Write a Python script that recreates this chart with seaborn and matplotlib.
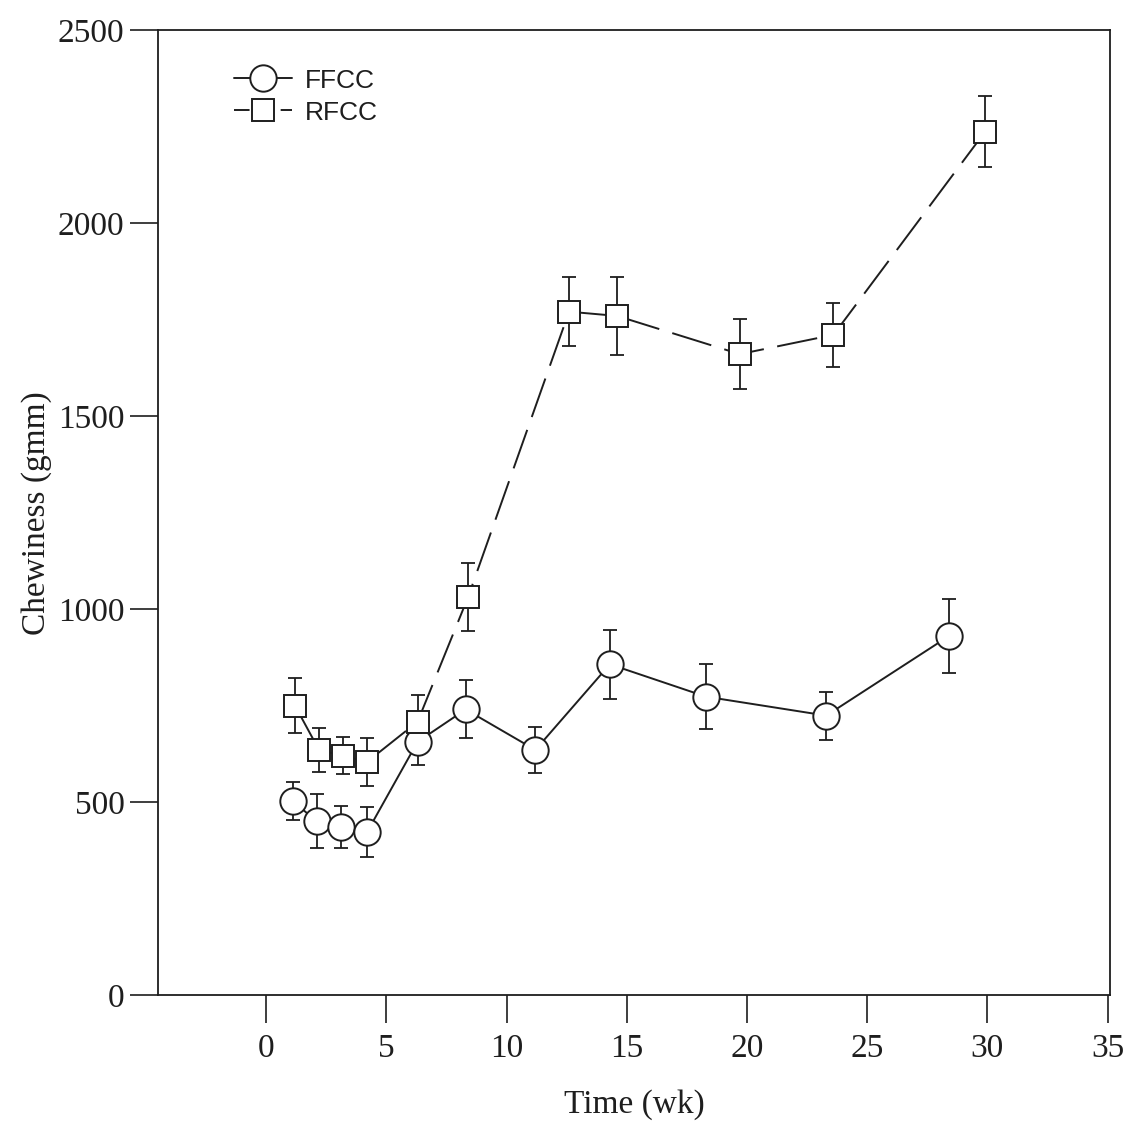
import numpy as np
import pandas as pd
import matplotlib
matplotlib.use("Agg")
import matplotlib.pyplot as plt
import seaborn as sns
from matplotlib.lines import Line2D

# ---- data ----
ffcc_x = [1.1, 2.1, 3.1, 4.2, 6.3, 8.3, 11.2, 14.3, 18.3, 23.3, 28.4]
ffcc_y = [503, 450, 435, 422, 656, 740, 635, 857, 773, 724, 930]
ffcc_err = [50, 70, 55, 65, 60, 75, 60, 90, 85, 62, 95]

rfcc_x = [1.2, 2.2, 3.2, 4.2, 6.3, 8.4, 12.6, 14.6, 19.7, 23.6, 29.9]
rfcc_y = [750, 635, 620, 604, 708, 1031, 1771, 1760, 1661, 1711, 2237]
rfcc_err = [72, 58, 48, 62, 70, 88, 90, 100, 90, 83, 92]

series_names = ["FFCC", "RFCC"]
x_ticks = [0, 5, 10, 15, 20, 25, 30, 35]
y_ticks = [0, 500, 1000, 1500, 2000, 2500]

df = pd.DataFrame({
    "time": ffcc_x + rfcc_x,
    "chew": ffcc_y + rfcc_y,
    "err": ffcc_err + rfcc_err,
    "series": ["FFCC"] * len(ffcc_x) + ["RFCC"] * len(rfcc_x),
})

sns.set_style("ticks")
plt.rcParams["font.family"] = ["Liberation Serif", "DejaVu Serif"]

ink = "#1e1e1e"
fig = plt.figure(figsize=(11.28, 11.28), dpi=100)
ax = fig.add_axes([0.140, 0.118, 0.844, 0.855])

# error bars (under markers)
for name in series_names:
    d = df[df.series == name]
    ax.errorbar(d.time, d.chew, yerr=d.err, fmt="none", ecolor=ink,
                elinewidth=1.3, capsize=5, capthick=1.3, zorder=1)

markers = {"FFCC": "o", "RFCC": "s"}
dashes = {"FFCC": "", "RFCC": (21, 7)}
sns.lineplot(data=df, x="time", y="chew", hue="series", style="series",
             palette={"FFCC": ink, "RFCC": ink}, markers=markers, dashes=dashes,
             linewidth=1.4, legend=False, ax=ax, sort=False,
             estimator=None)

msize = {"FFCC": 19, "RFCC": 16}
for line, name in zip(ax.lines[-2:], series_names):
    line.set_markerfacecolor("white")
    line.set_markeredgecolor(ink)
    line.set_markeredgewidth(1.4)
    line.set_markersize(msize[name])
    line.set_zorder(3)

ax.set_xlim(-4.5, 35.1)
ax.set_ylim(0, 2500)
ax.set_xticks(x_ticks)
ax.set_yticks(y_ticks)
ax.tick_params(axis="both", direction="out", length=20, width=1.2, color=ink,
               labelsize=24, labelcolor=ink)
ax.tick_params(axis="x", pad=8)
ax.tick_params(axis="y", pad=4)
for s in ax.spines.values():
    s.set_visible(True)
    s.set_linewidth(1.3)
    s.set_color(ink)

ax.set_xlabel("Time (wk)", fontsize=24, color=ink, labelpad=18)
ax.set_ylabel("Chewiness (gmm)", fontsize=24, color=ink, labelpad=4)

handles = [
    Line2D([], [], color=ink, lw=1.4, marker="o", markersize=19,
           markerfacecolor="white", markeredgecolor=ink, markeredgewidth=1.4),
    Line2D([], [], color=ink, lw=1.4, ls=(0, (8, 4)), marker="s", markersize=16,
           markerfacecolor="white", markeredgecolor=ink, markeredgewidth=1.4),
]
leg = ax.legend(handles, series_names, loc="upper left",
                bbox_to_anchor=(0.055, 0.985), frameon=False,
                prop={"family": "Liberation Sans", "size": 19},
                handlelength=2.2, handletextpad=0.5, labelspacing=0.3)
for t in leg.get_texts():
    t.set_color(ink)

fig.savefig("out.png", dpi=100, facecolor="white")
